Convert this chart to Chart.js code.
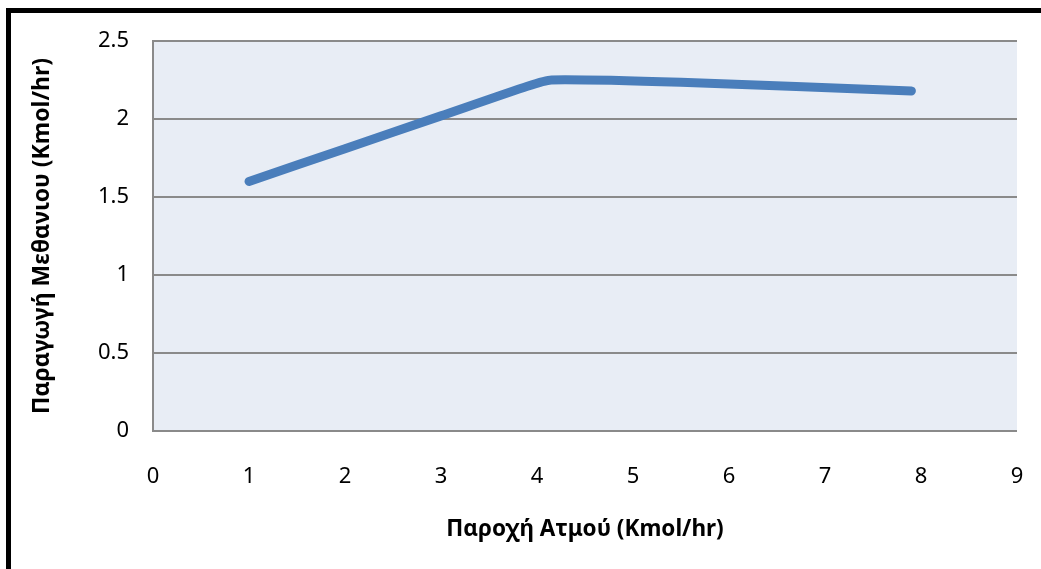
<!DOCTYPE html>
<html>
<head>
<meta charset="utf-8">
<script src="https://cdn.jsdelivr.net/npm/chart.js@4.4.1/dist/chart.umd.min.js"></script>
<style>
    html, body { margin: 0; padding: 0; background: #fff; overflow: hidden; }
    #wrap { position: relative; width: 1041px; height: 569px; }
    #frame {
        position: absolute; left: 6px; top: 8px;
        width: 2000px; height: 2000px;
        border: 5px solid #000;
        pointer-events: none;
    }
</style>
</head>
<body>
<div id="wrap">
    <canvas id="myLineChart" width="1041" height="569"></canvas>
    <div id="frame"></div>
</div>
<script>
// steam flow (Kmol/hr) vs methane production (Kmol/hr)
var steamFlow = [1, 2, 3, 3.9, 4.15, 5.5, 7.9];
var methaneOut = [1.6, 1.81, 2.02, 2.21, 2.25, 2.235, 2.18];

var xTitle = 'Παροχή Ατμού (Kmol/hr)';
var yTitle = 'Παραγωγή Μεθανιου (Kmol/hr)';

var fontFamily = "'Noto Sans', 'Liberation Sans', sans-serif";
var gridColor = '#8a8a8a';

// fill the plot area before anything else is drawn
var plotBackground = {
    id: 'plotBackground',
    beforeDraw: function (chart) {
        var a = chart.chartArea;
        var c = chart.ctx;
        c.save();
        c.fillStyle = '#e8edf5';
        c.fillRect(a.left, a.top, a.right - a.left, a.bottom - a.top);
        c.restore();
    }
};

var ctx = document.getElementById('myLineChart').getContext('2d');

var data = {
    datasets: [{
        label: 'Μεθάνιο',
        data: steamFlow.map(function (x, i) { return { x: x, y: methaneOut[i] }; }),
        borderColor: '#4a7ebb',
        borderWidth: 9,
        borderCapStyle: 'round',
        borderJoinStyle: 'round',
        pointRadius: 0,
        tension: 0.2,
        fill: false
    }]
};

var options = {
    responsive: false,
    animation: false,
    layout: {
        padding: { left: 0, top: 41, right: 24, bottom: 0 }
    },
    plugins: {
        legend: { display: false },
        tooltip: { enabled: false }
    },
    scales: {
        x: {
            type: 'linear',
            min: 0,
            max: 9,
            afterFit: function (scale) {
                scale.height = 138;
                scale.paddingLeft = 0;
                scale.paddingRight = 0;
            },
            ticks: {
                stepSize: 1,
                padding: 33,
                color: '#000',
                font: { family: fontFamily, size: 22 }
            },
            grid: { display: false, drawTicks: false },
            border: { display: false },
            title: {
                display: true,
                text: xTitle,
                color: '#000',
                padding: { top: 0, bottom: 26 },
                font: { family: fontFamily, size: 22.5, weight: 'bold' }
            }
        },
        y: {
            min: 0,
            max: 2.5,
            afterFit: function (scale) { scale.width = 153; },
            ticks: {
                stepSize: 0.5,
                padding: 24,
                color: '#000',
                font: { family: fontFamily, size: 22 },
                callback: function (value) { return String(value); }
            },
            grid: {
                color: gridColor,
                lineWidth: 2,
                drawTicks: false
            },
            border: { display: true, color: gridColor, width: 2 },
            title: {
                display: true,
                text: yTitle,
                color: '#000',
                padding: { top: 29, bottom: 0 },
                font: { family: fontFamily, size: 23, weight: 'bold' }
            }
        }
    }
};

var myLineChart = new Chart(ctx, {
    type: 'line',
    data: data,
    options: options,
    plugins: [plotBackground]
});
</script>
</body>
</html>
